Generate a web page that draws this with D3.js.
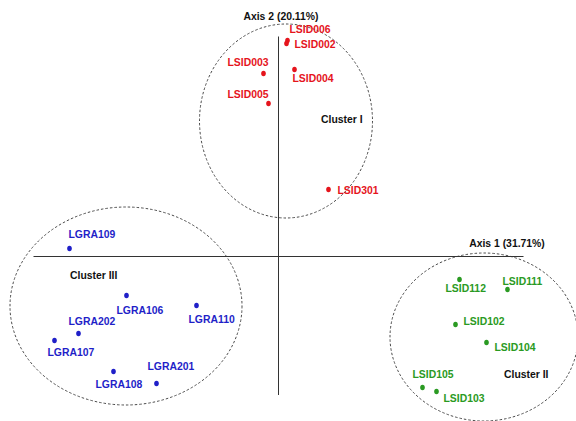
<!DOCTYPE html>
<html>
<head>
<meta charset="utf-8">
<script src="https://cdn.jsdelivr.net/npm/d3@7"></script>
<style>
  html, body { margin: 0; padding: 0; background: #fff; }
  svg text { font-family: "Liberation Sans", Arial, sans-serif; font-weight: bold; }
</style>
</head>
<body>
<svg id="chart" width="576" height="421"></svg>
<script>
// PCoA scores (Axis 1, Axis 2) for each accession
const names = [
  "LSID006", "LSID002", "LSID003", "LSID004", "LSID005", "LSID301",
  "LGRA109", "LGRA106", "LGRA110", "LGRA202", "LGRA107", "LGRA108", "LGRA201",
  "LSID112", "LSID111", "LSID102", "LSID104", "LSID105", "LSID103"
];
const axis1 = [
  0.18, 0.16, -0.30, 0.32, -0.20, 1.00,
  -4.18, -3.04, -1.64, -4.00, -4.48, -3.30, -2.44,
  3.62, 4.58, 3.54, 4.16, 2.88, 3.16
];
const axis2 = [
  4.32, 4.26, 3.66, 3.74, 3.06, 1.34,
  0.16, -0.78, -0.98, -1.54, -1.68, -2.30, -2.54,
  -0.46, -0.66, -1.36, -1.72, -2.62, -2.70
];
const cluster = [
  "I", "I", "I", "I", "I", "I",
  "III", "III", "III", "III", "III", "III", "III",
  "II", "II", "II", "II", "II", "II"
];

// Cluster outlines in data units: centre and semi-axes
const clusterNames = ["I", "II", "III"];
const clusterCx = [0.15, 4.11, -3.05];
const clusterCy = [2.71, -1.61, -0.99];
const clusterRx = [1.73, 1.88, 2.32];
const clusterRy = [1.94, 1.68, 1.98];

const axisTitles = ["Axis 1 (31.71%)", "Axis 2 (20.11%)"];

// Label placement relative to each point (px)
const labelDx = [2, 8, -36, -2, -41, 9, -1, -10, -8, -10, -7, -18, -9, -14, -5, 8, 8, -10, 7];
const labelDy = [-8, 4, -8, 12, -6, 4, -11, 18, 17, -9, 15, 16, -14, 12, -5, 0, 8, -10, 10];

// Cluster caption positions (px)
const captionX = [321, 504, 70];
const captionY = [123, 378, 279];

const colors = { "I": "#e5141c", "II": "#2a9a22", "III": "#1f1fc8" };

const svg = d3.select("#chart");

const x = d3.scaleLinear().domain([-6, 6]).range([-21.5, 578.5]);
const y = d3.scaleLinear().domain([-5, 5]).range([506.5, 6.5]);

// Cluster ellipses
svg.append("g").selectAll("ellipse")
  .data(clusterNames)
  .join("ellipse")
  .attr("cx", (d, i) => x(clusterCx[i]))
  .attr("cy", (d, i) => y(clusterCy[i]))
  .attr("rx", (d, i) => x(clusterRx[i]) - x(0))
  .attr("ry", (d, i) => y(0) - y(clusterRy[i]))
  .attr("fill", "none")
  .attr("stroke", "#4a4a4a")
  .attr("stroke-width", 1)
  .attr("stroke-dasharray", "2.5,2");

// Axes through the origin
svg.append("line")
  .attr("x1", x(-4.9)).attr("x2", x(4.9))
  .attr("y1", y(0)).attr("y2", y(0))
  .attr("stroke", "#333").attr("stroke-width", 1);
svg.append("line")
  .attr("x1", x(0)).attr("x2", x(0))
  .attr("y1", y(4.4)).attr("y2", y(-2.77))
  .attr("stroke", "#333").attr("stroke-width", 1);

svg.append("text")
  .attr("x", x(4.57)).attr("y", y(0) - 9.5)
  .attr("text-anchor", "middle")
  .attr("font-size", 10.4).attr("fill", "#111")
  .text(axisTitles[0]);
svg.append("text")
  .attr("x", x(0.05)).attr("y", 20)
  .attr("text-anchor", "middle")
  .attr("font-size", 10.4).attr("fill", "#111")
  .text(axisTitles[1]);

// Cluster captions
svg.append("g").selectAll("text")
  .data(clusterNames)
  .join("text")
  .attr("x", (d, i) => captionX[i])
  .attr("y", (d, i) => captionY[i])
  .attr("font-size", 10.4)
  .attr("fill", "#111")
  .text(d => "Cluster " + d);

// Points
const pts = names.map((n, i) => ({ n, i, c: cluster[i] }));
svg.append("g").selectAll("ellipse")
  .data(pts)
  .join("ellipse")
  .attr("cx", d => x(axis1[d.i]))
  .attr("cy", d => y(axis2[d.i]))
  .attr("rx", 2.3).attr("ry", 2.8)
  .attr("fill", d => colors[d.c]);

// Point labels
svg.append("g").selectAll("text")
  .data(pts)
  .join("text")
  .attr("x", d => x(axis1[d.i]) + labelDx[d.i])
  .attr("y", d => y(axis2[d.i]) + labelDy[d.i])
  .attr("font-size", 10.4)
  .attr("fill", d => colors[d.c])
  .text(d => d.n);
</script>
</body>
</html>
